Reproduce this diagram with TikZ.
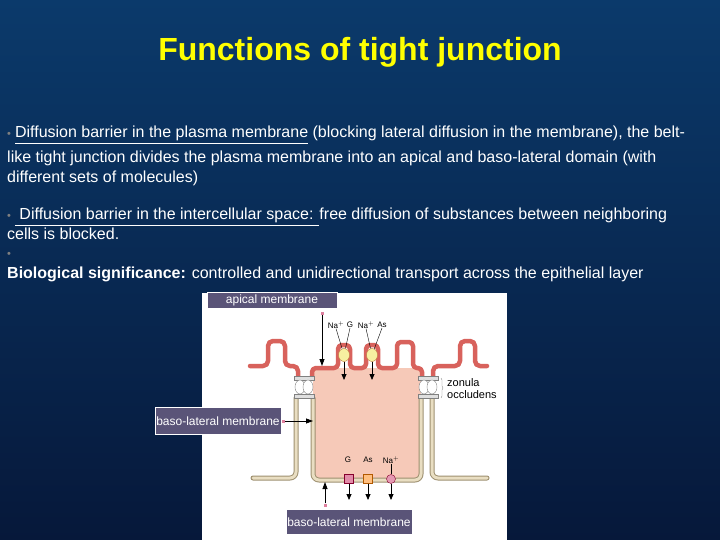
\documentclass[tikz,border=0pt]{standalone}
\usepackage{fontspec}
\setmainfont{Liberation Sans}
\usetikzlibrary{arrows.meta,decorations.pathreplacing,shapes.geometric}
\begin{document}
\begin{tikzpicture}[x=1pt,y=-1pt,
  txt/.style={text=white,font=\fontsize{16}{18}\selectfont,anchor=base west,inner sep=0},
  lbl/.style={draw=white,fill=lblc,text=white,font=\fontsize{12}{13}\selectfont,inner sep=1.5pt},
  small/.style={font=\fontsize{8}{9}\selectfont,inner sep=0},
  memb/.style={line width=4.5pt,draw=redm,line cap=round,line join=round},
  lat/.style={line width=5pt,draw=beigeb,line cap=round,line join=round,rounded corners=6pt},
  latin/.style={line width=3pt,draw=beige,line cap=round,line join=round,rounded corners=6pt},
  ptr/.style={-{Triangle[length=7pt,width=5pt]},line width=0.8pt},
  dn/.style={-{Triangle[length=6pt,width=5pt]},line width=0.8pt}]
\definecolor{bgtop}{HTML}{0B3A6B}\definecolor{bgbot}{HTML}{06183A}
\definecolor{lblc}{HTML}{5A5478}\definecolor{redm}{HTML}{D8625C}
\definecolor{beige}{HTML}{E9DEC2}\definecolor{beigeb}{HTML}{9E9070}
\definecolor{pinkc}{HTML}{F6C9B8}
\shade[top color=bgtop,bottom color=bgbot] (0,0) rectangle (720,540);
\useasboundingbox (0,0) rectangle (720,540);
\node[text={rgb,255:red,255;green,255;blue,0},font=\bfseries\fontsize{32}{34}\selectfont] (title) at (360,52) {Functions of tight junction};
\node[txt] (l1) at (7,138) {{\color{gray}\fontsize{11}{11}\selectfont•}\hspace{4pt}\underline{Diffusion barrier in the plasma membrane} (blocking lateral diffusion in the membrane), the belt-};
\node[txt] (l2) at (7,163) {like tight junction divides the plasma membrane into an apical and baso-lateral domain (with};
\node[txt] (l3) at (7,183) {different sets of molecules)};
\node[txt] (l4) at (7,220) {{\color{gray}\fontsize{11}{11}\selectfont•}\hspace{4pt}\underline{ Diffusion barrier in the intercellular space: }free diffusion of substances between neighboring};
\node[txt] (l5) at (7,240) {cells is blocked.};
\node[txt] (l6) at (7,258) {{\color{gray}\fontsize{11}{11}\selectfont•}};
\node[txt] (l7) at (7,278) {\textbf{Biological significance:} controlled and unidirectional transport across the epithelial layer};
% panel
\fill[white] (202,293) rectangle (507,540);
% cell interior
\fill[pinkc] (313,368) rectangle (421,480);
% lateral membranes
\draw[lat] (296,398) -- (296,478) -- (253,478);
\draw[latin] (296,398) -- (296,478) -- (253,478);
\draw[lat] (432,398) -- (432,478) -- (487,478);
\draw[latin] (432,398) -- (432,478) -- (487,478);
\draw[lat] (313,398) -- (313,480) -- (421,480) -- (421,398);
\draw[latin] (313,398) -- (313,480) -- (421,480) -- (421,398);
% apical membrane
\draw[memb,rounded corners=5pt] (250,366) -- (268,366) -- (268,341) -- (285,341) -- (285,366) -- (298,366) -- (298,376);
\draw[memb,rounded corners=4pt] (312,376) -- (312,368) -- (338,368) -- (338,345) -- (350,345) -- (350,368) -- (366,368) -- (366,345) -- (378,345) -- (378,368) -- (397,368) -- (397,342) -- (413,342) -- (413,368) -- (422,368) -- (422,376);
\draw[memb,rounded corners=5pt] (433,376) -- (433,366) -- (460,366) -- (460,341) -- (475,341) -- (475,366) -- (487,366);
% tight junctions
\foreach \x in {304,428}{
  \draw[gray,fill=gray!25] (\x-10,376) rectangle (\x+10,380);
  \draw[gray,fill=gray!25] (\x-10,394) rectangle (\x+10,398);
  \draw[gray,fill=white] (\x-4,387) ellipse[x radius=5,y radius=7];
  \draw[gray,fill=white] (\x+4,387) ellipse[x radius=5,y radius=7];}
% apical transporters
\node[small] (na1) at (336,325) {Na$^+$};
\node[small] (g1) at (350,325) {G};
\node[small] (na2) at (366,325) {Na$^+$};
\node[small] (as1) at (382,325) {As};
\node[draw=brown,fill=brown!30!yellow!40!white,ellipse,minimum width=11pt,minimum height=13pt,inner sep=0] (t1) at (344,355) {};
\node[draw=brown,fill=brown!30!yellow!40!white,ellipse,minimum width=11pt,minimum height=13pt,inner sep=0] (t2) at (372,355) {};
\draw[thin] (na1.south) -- (t1); \draw[thin] (g1.south) -- (t1);
\draw[thin] (na2.south) -- (t2); \draw[thin] (as1.south) -- (t2);
\coordinate (e1) at (344,380); \coordinate (e2) at (372,380);
\draw[dn] (t1) -- (e1); \draw[dn] (t2) -- (e2);
% basal transporters
\node[small] (g2) at (348,460) {G};
\node[small] (as2) at (368,460) {As};
\node[small] (na3) at (391,460) {Na$^+$};
\node[draw=purple!70!black,fill=purple!45,minimum size=9pt,inner sep=0] (b1) at (349,479) {};
\node[draw=orange!70!black,fill=orange!50,minimum size=9pt,inner sep=0] (b2) at (368,479) {};
\node[draw=purple!70!black,fill=purple!40,circle,minimum size=9pt,inner sep=0] (b3) at (391,479) {};
\draw[thin] (na3.south) -- (b3);
\coordinate (f1) at (349,500); \coordinate (f2) at (368,500); \coordinate (f3) at (391,500);
\draw[dn] (b1) -- (f1); \draw[dn] (b2) -- (f2); \draw[dn] (b3) -- (f3);
% zonula occludens
\node[small,anchor=west,font=\fontsize{11}{12}\selectfont,align=left] (zo) at (447,389) {zonula\\occludens};
\draw[gray,decorate,decoration={brace,amplitude=2pt}] (441,378) -- (441,398);
% labels and pointers
\node[lbl,minimum width=130pt,minimum height=16pt] (apl) at (272,300) {apical membrane};
\node[lbl,minimum width=125pt,minimum height=27pt] (bl1) at (218,421) {baso-lateral membrane};
\node[lbl,minimum width=123pt,minimum height=25pt] (bl2) at (349,522) {baso-lateral membrane};
\node[fill=purple!50,minimum size=3pt,inner sep=0] (s1) at (322,313) {};
\node[fill=purple!50,minimum size=3pt,inner sep=0] (s2) at (283,421) {};
\node[fill=purple!50,minimum size=3pt,inner sep=0] (s3) at (325,505) {};
\coordinate (p1) at (322,366); \coordinate (p2) at (313,421); \coordinate (p3) at (325,482);
\draw[ptr] (s1) -- (p1); \draw[ptr] (s2) -- (p2); \draw[ptr] (s3) -- (p3);
\end{tikzpicture}
\end{document}
